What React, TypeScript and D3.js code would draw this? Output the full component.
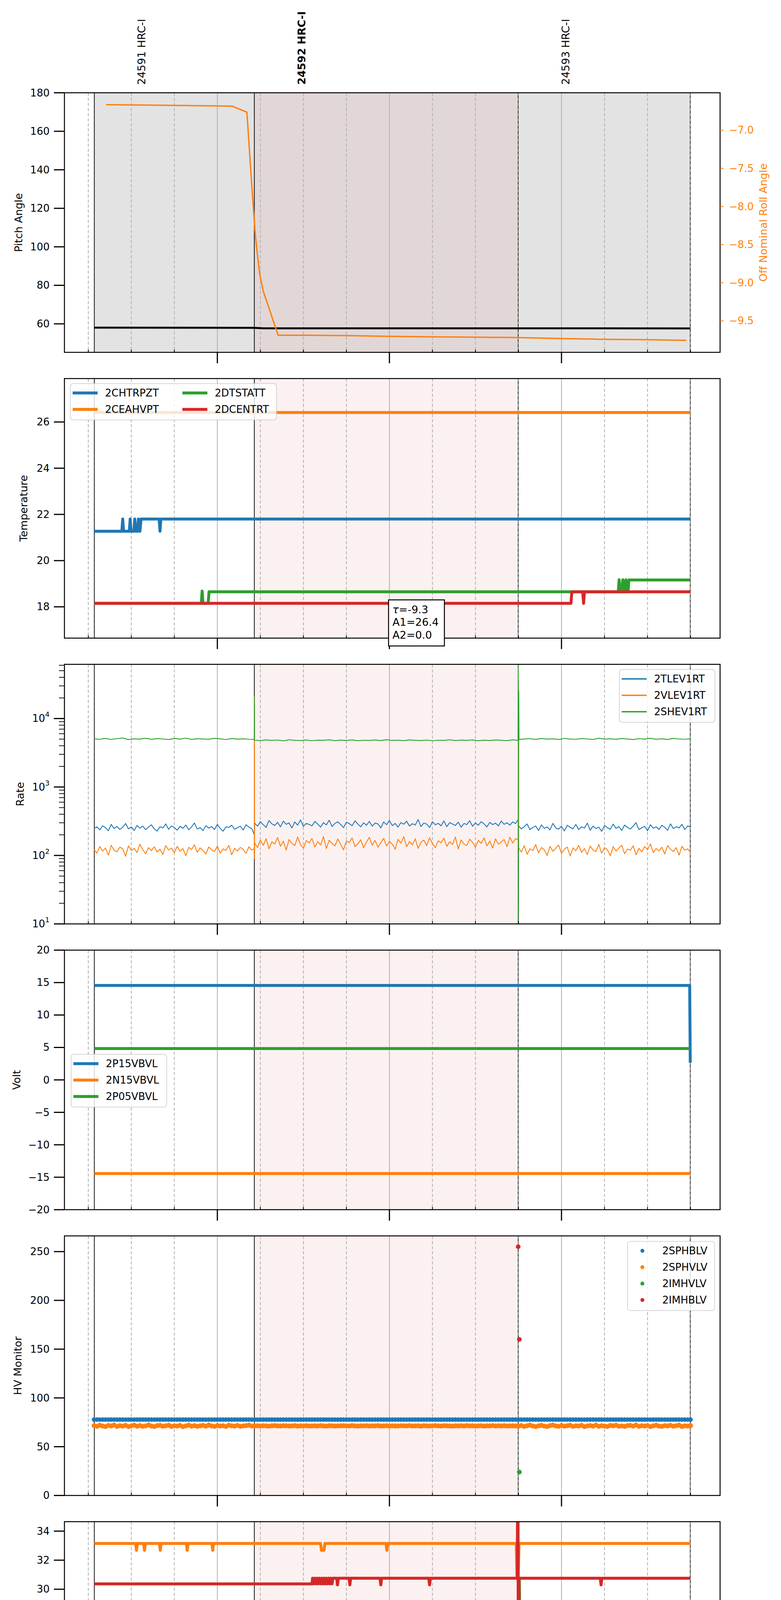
import { FC, ReactNode } from 'react';
import * as d3 from 'd3';

type Pt = [number, number];
type Item = { name: string; color: string };

// time is kept as minutes after 2021-07-01 19:00 UTC
const BASE = Date.UTC(2021, 6, 1, 19, 0, 0);
const at = (m: number) => new Date(BASE + m * 60000);

const X_MIN = 6.68;
const X_MAX = 235.3;

const OBSIDS = ['24591', '24592', '24593'];
const OBS_INSTR = 'HRC-I';
const OBS_START = [17.1, 72.9, 164.9];
const OBS_STOP = [72.9, 164.9, 224.9];
const OBS_FOCUS = '24592';

const BLUE = '#1f77b4';
const ORANGE = '#ff7f0e';
const GREEN = '#2ca02c';
const RED = '#d62728';

// ---- pitch / roll
const PITCH: Pt[] = [[17.1, 58.05], [72.9, 57.95], [76.0, 57.7], [224.9, 57.65]];
const ROLL: Pt[] = [
  [21.2, -6.665], [35, -6.67], [50, -6.677], [65.1, -6.684], [70.3, -6.763], [72.1, -7.78],
  [73.3, -8.4], [74.7, -8.87], [76.0, -9.11], [81.2, -9.689], [92, -9.689], [105.9, -9.694],
  [119.8, -9.703], [133.6, -9.71], [147.5, -9.713], [164.9, -9.719], [178.7, -9.731],
  [192.6, -9.741], [208.2, -9.747], [223.5, -9.756],
];

// ---- temperature
const CHTRPZT: Pt[] = [
  [17.1, 21.27], [26.7, 21.27], [27.0, 21.8], [27.3, 21.27], [29.3, 21.27], [29.6, 21.8], [29.9, 21.27],
  [30.9, 21.27], [31.2, 21.8], [31.6, 21.27], [32.2, 21.27], [32.5, 21.8], [33.0, 21.27], [33.4, 21.8],
  [39.7, 21.8], [40.0, 21.27], [40.3, 21.8], [224.9, 21.8],
];
const CEAHVPT: Pt[] = [[17.1, 26.41], [224.9, 26.41]];
const DTSTATT: Pt[] = [
  [17.1, 18.15], [54.4, 18.15], [54.7, 18.68], [55.0, 18.15], [56.8, 18.15], [57.1, 18.65],
  [199.8, 18.65], [200.1, 19.17], [200.5, 18.65], [201.0, 18.65], [201.4, 19.17], [202.0, 18.65],
  [202.5, 19.17], [203.2, 18.65], [203.5, 19.16], [224.9, 19.16],
];
const DCENTRT: Pt[] = [
  [17.1, 18.15], [183.3, 18.15], [183.6, 18.65], [187.4, 18.65], [187.7, 18.15], [188.0, 18.65], [224.9, 18.65],
];
const FIT_LINES = ['=-9.3', 'A1=26.4', 'A2=0.0'];
const ANNOT_T = 119.7;
const ANNOT_V = 18.3;

// ---- rates: TLEV/VLEV every minute from 19:17, SHEV every 2 minutes
const RATE_T1 = d3.range(17, 226, 1);
const RATE_T2 = d3.range(17, 226, 2);
const TLEV1RT = [
  248, 262, 236, 271, 255, 229, 284, 247, 266, 240, 258, 293, 244, 261, 232, 275, 250, 268, 238, 259,
  281, 245, 227, 263, 252, 289, 241, 270, 256, 234, 266, 249, 278, 237, 260, 298, 243, 255, 230, 272,
  251, 264, 239, 285, 248, 226, 262, 257, 276, 242, 253, 268, 235, 281, 259, 246,
  296, 268, 312, 281, 257, 323, 290, 274, 305, 262, 318, 285, 299, 252, 309, 277, 331, 266, 293, 284,
  270, 315, 288, 259, 302, 279, 327, 264, 295, 310, 283, 255, 306, 292, 271, 320, 287, 262, 300, 276,
  314, 268, 297, 289, 253, 309, 281, 325, 272, 294, 260, 303, 286, 316, 269, 291, 278, 334, 264, 298,
  287, 256, 311, 280, 295, 271, 319, 263, 302, 288, 274, 307, 259, 293, 283, 321, 267, 299, 276, 312,
  290, 261, 305, 282, 296, 270, 318, 285, 300, 277, 309, 291,
  272, 244, 263, 289, 238, 256, 270, 231, 280, 249, 261, 236, 294, 253, 242, 267, 228, 276, 258, 245,
  284, 239, 262, 251, 297, 234, 268, 247, 259, 225, 273, 255, 241, 287, 249, 264, 232, 278, 257, 243,
  269, 301, 238, 254, 266, 229, 281, 250, 262, 240, 275, 258, 233, 290, 247, 263, 252, 285, 239, 270,
  260,
];
const VLEV1RT = [
  122, 108, 135, 116, 128, 101, 141, 119, 113, 132, 125, 97, 138, 118, 127, 110, 146, 121, 106, 130,
  117, 134, 112, 124, 103, 139, 120, 128, 109, 136, 115, 126, 99, 131, 122, 143, 111, 129, 118, 105,
  133, 121, 114, 137, 108, 125, 119, 140, 102, 127, 116, 131, 123, 107, 134, 120,
  152, 131, 168, 140, 176, 125, 158, 147, 183, 136, 162, 120, 171, 149, 139, 186, 144, 128, 165, 153,
  177, 133, 159, 142, 189, 126, 167, 150, 138, 174, 145, 121, 163, 155, 180, 135, 148, 170, 129, 157,
  184, 141, 166, 132, 154, 178, 137, 161, 146, 123, 172, 151, 188, 134, 160, 143, 175, 127, 156, 168,
  139, 182, 149, 130, 164, 153, 179, 136, 158, 145, 186, 124, 169, 147, 140, 173, 155, 132, 166, 150,
  181, 138, 162, 128, 175, 146, 157, 171, 134, 185, 152, 176,
  128, 112, 139, 104, 125, 118, 144, 109, 131, 121, 100, 136, 115, 127, 142, 107, 123, 133, 98, 129,
  117, 140, 111, 126, 103, 137, 120, 114, 145, 108, 130, 122, 99, 134, 116, 128, 141, 106, 124, 119,
  138, 102, 127, 113, 135, 121, 147, 110, 126, 117, 132, 105, 139, 123, 114, 130, 101, 136, 119, 125,
  111,
];
const SHEV1RT = [
  5050, 4980, 5120, 4950, 5080, 5200, 4920, 5060, 5010, 5150, 4970, 5090, 5030, 4940, 5110, 5000,
  5180, 4960, 5070, 5020, 4990, 5140, 5050, 4930, 5100, 5010, 5060, 4980,
  4820, 4760, 4880, 4790, 4850, 4720, 4900, 4800, 4770, 4860, 4740, 4830, 4810, 4890, 4750, 4840,
  4780, 4870, 4730, 4820, 4800, 4860, 4760, 4910, 4790, 4830, 4750, 4880, 4810, 4770, 4850, 4740,
  4820, 4790, 4900, 4760, 4840, 4800, 4870, 4730, 4830, 4780, 4860, 4810, 4750, 4890, 4820,
  5020, 5080, 4960, 5110, 5000, 5050, 4940, 5130, 5010, 4980, 5090, 5030, 4950, 5160, 5000, 5060,
  4970, 5100, 5020, 4940, 5080, 5010, 5140, 4990, 5050, 4960, 5120, 5030, 4980, 5070,
];
// transients at the obsid boundaries
const TLEV_EVENTS: Pt[] = [[72.9, 200], [164.95, 340]];
const VLEV_EVENTS: Pt[] = [[72.85, 125], [72.9, 21000], [72.95, 90], [164.85, 170], [164.95, 36000], [165.05, 130]];
const SHEV_EVENTS: Pt[] = [
  [72.85, 4950], [72.9, 21000], [72.95, 4800], [164.85, 4800], [164.9, 62000], [165.0, 8], [165.1, 25000], [165.2, 4950],
];

// ---- volts
const P15VBVL: Pt[] = [[17.1, 14.55], [224.7, 14.55], [224.9, 2.65]];
const N15VBVL: Pt[] = [[17.1, -14.43], [224.9, -14.43]];
const P05VBVL: Pt[] = [[17.1, 4.84], [224.9, 4.84]];

// ---- HV monitor, one reading a minute
const HV_T = d3.range(17, 226, 1);
const SPHBLV_LEVEL = 77.8; // flat reading for the whole span
const SPHVLV = [
  71.6, 70.9, 72.0, 71.2, 70.7, 71.8, 71.3, 72.2, 70.8, 71.5, 71.1, 71.9, 70.6, 71.4, 72.1, 71.0,
  71.7, 70.9, 71.3, 72.3, 71.2, 70.7, 71.6, 71.9, 71.0, 71.4, 72.0, 70.8, 71.5, 71.2, 71.8, 70.6,
  71.3, 72.1, 71.1, 71.6, 70.9, 71.4, 71.9, 71.0, 72.2, 71.3, 70.8, 71.7, 71.2, 71.5, 70.7, 72.0,
  71.4, 71.1, 71.8, 70.9, 71.3, 71.6, 72.1, 71.2,
  71.3, 71.4, 71.2, 71.5, 71.3, 71.1, 71.4, 71.6, 71.3, 71.2, 71.5, 71.4, 71.2, 71.3, 71.6, 71.1,
  71.4, 71.3, 71.5, 71.2, 71.3, 71.4, 71.2, 71.6, 71.3, 71.1, 71.5, 71.4, 71.2, 71.3, 71.4, 71.5,
  71.3, 71.2, 71.6, 71.3, 71.1, 71.4, 71.3, 71.5, 71.2, 71.4, 71.3, 71.6, 71.2, 71.3, 71.5, 71.1,
  71.4, 71.3, 71.2, 71.5, 71.4, 71.3, 71.6, 71.2, 71.3, 71.4, 71.1, 71.5, 71.3, 71.2, 71.4, 71.6,
  71.3, 71.2, 71.5, 71.4, 71.3, 71.1, 71.4, 71.3, 71.5, 71.2, 71.6, 71.3, 71.4, 71.2, 71.3, 71.5,
  71.1, 71.4, 71.3, 71.6, 71.2, 71.4, 71.3, 71.5, 71.2, 71.3, 71.4, 71.3,
  71.0, 71.7, 70.8, 71.5, 72.1, 71.2, 70.6, 71.4, 71.9, 71.1, 70.7, 71.6, 72.2, 71.3, 70.9, 71.8,
  71.0, 71.5, 72.0, 70.8, 71.4, 71.2, 71.9, 70.6, 71.3, 71.7, 71.1, 72.1, 70.9, 71.5, 71.2, 70.7,
  71.8, 71.4, 72.0, 71.0, 71.3, 70.8, 71.6, 71.9, 71.1, 72.2, 70.9, 71.5, 71.2, 71.7, 70.6, 71.4,
  72.0, 71.1, 70.8, 71.6, 71.3, 71.9, 71.0, 71.5, 72.1, 70.7, 71.4, 71.2, 71.6,
];
const IMHVLV: Pt[] = [[165.3, 24]];
const IMHBLV: Pt[] = [[164.9, 255], [165.3, 160]];

// ---- detector temps
const SPINATM: Pt[] = [[17.1, 18.28], [164.9, 18.28], [165.2, 18.85], [165.6, 18.28], [224.9, 18.28]];
const SPHVATM: Pt[] = [
  [17.1, 33.15], [31.5, 33.15], [31.8, 32.68], [32.1, 33.15], [34.3, 33.15], [34.6, 32.68], [34.9, 33.15],
  [39.8, 33.15], [40.1, 32.68], [40.4, 33.15], [49.2, 33.15], [49.5, 32.68], [49.8, 33.15], [58.1, 33.15],
  [58.4, 32.68], [58.7, 33.15], [96.0, 33.15], [96.3, 32.68], [97.2, 32.68], [97.5, 33.15], [118.8, 33.15],
  [119.1, 32.68], [119.4, 33.15], [164.2, 33.15], [164.5, 30.75], [164.9, 30.75], [165.2, 33.15], [224.9, 33.15],
];
const IMINATM: Pt[] = [
  [17.1, 18.28], [25.9, 18.28], [26.4, 18.94], [26.9, 18.28], [27.8, 18.28], [28.2, 18.94], [28.6, 18.28],
  [29.5, 18.28], [29.9, 18.94], [30.3, 18.28], [31.8, 18.28], [32.2, 18.94], [165.0, 18.94], [165.3, 30.75],
  [165.8, 18.94], [224.9, 18.94],
];
const IMHVATM: Pt[] = [
  [17.1, 30.37], [93.0, 30.37], [93.2, 30.76], [93.6, 30.37], [94.0, 30.76], [94.4, 30.37], [94.8, 30.76],
  [95.2, 30.37], [95.6, 30.76], [96.0, 30.37], [96.4, 30.76], [96.8, 30.37], [97.2, 30.76], [97.6, 30.37],
  [98.0, 30.76], [98.4, 30.37], [98.8, 30.76], [99.2, 30.37], [99.6, 30.76], [100.0, 30.37], [100.3, 30.76],
  [101.6, 30.76], [101.9, 30.3], [102.2, 30.76], [105.9, 30.76], [106.2, 30.3], [106.5, 30.76],
  [116.7, 30.76], [117.0, 30.3], [117.3, 30.76], [133.7, 30.76], [134.0, 30.3], [134.3, 30.76],
  [164.6, 30.76], [164.8, 45], [165.0, 10], [165.2, 30.76], [193.5, 30.76], [193.8, 30.3], [194.1, 30.76],
  [224.9, 30.76],
];

// ---- FEA temps
const FHTRMZT: Pt[] = [
  [17.1, 20.73], [95.3, 20.73], [95.6, 21.27], [194.4, 21.27], [194.7, 21.82], [195.8, 21.82],
  [196.1, 21.27], [196.4, 21.82], [224.9, 21.82],
];
const FRADPYT: Pt[] = [
  [17.1, 16.2], [65.3, 16.2], [65.6, 16.68], [172.2, 16.68], [172.5, 17.17], [198.2, 17.17],
  [198.5, 17.66], [224.9, 17.66],
];
const FEPRATM: Pt[] = [
  [17.1, 22.42], [85.5, 22.42], [85.8, 23.14], [164.3, 23.14], [164.5, 21.4], [164.7, 23.14],
  [219.7, 23.14], [220.0, 23.88], [224.9, 23.88],
];
const FE00ATM: Pt[] = [
  [17.1, 20.79], [32.7, 20.79], [33.0, 21.1], [33.3, 20.79], [34.4, 20.79], [34.7, 21.1], [36.4, 21.1],
  [36.9, 20.79], [37.3, 20.79], [37.7, 21.1], [74.5, 21.1], [74.8, 21.44], [75.1, 21.1], [89.4, 21.1],
  [89.7, 21.41], [90.1, 21.1], [90.5, 21.41], [90.9, 21.1], [91.3, 21.41], [91.7, 21.1], [92.1, 21.41],
  [92.5, 21.1], [92.9, 21.41], [93.2, 21.1], [93.4, 22.03], [93.6, 21.41], [108.4, 21.41], [108.7, 22.03],
  [109.0, 21.41], [130.9, 21.41], [131.2, 20.79], [131.5, 21.41], [133.3, 21.41], [133.6, 21.05],
  [133.9, 21.41], [152.6, 21.41], [152.9, 20.75], [153.2, 21.41], [155.0, 21.41], [155.3, 22.03],
  [155.6, 21.41], [157.3, 21.41], [157.6, 21.75], [157.9, 21.41], [160.1, 21.41], [160.4, 21.75],
  [160.7, 21.41], [164.7, 21.41], [164.9, 30], [165.1, 12], [165.3, 21.41], [170.6, 21.41],
  [170.9, 21.69], [217.7, 21.69], [218.0, 22.03], [221.1, 22.03], [221.4, 21.69], [221.7, 22.03],
  [224.9, 22.03],
];

const PLOT_L = 165;
const PLOT_R = 1844;
const TOP0 = 237.5;
const STEP = 731.6;
const PH = 664.5;
const FONT = 'DejaVu Sans';

const withEvents = (t: number[], v: number[], ev: Pt[]): Pt[] =>
  ([...d3.zip(t, v), ...ev] as Pt[]).sort((a, b) => a[0] - b[0]);

const Legend: FC<{ items: Item[]; x: number; y: number; w: number; cols?: number; dot?: boolean; lw: number }> = ({
  items, x, y, w, cols = 1, dot, lw,
}) => {
  const rows = Math.ceil(items.length / cols);
  const h = 51 + 42 * (rows - 1);
  return (
    <g>
      <rect x={x} y={y} width={w} height={h} rx={7} fill="white" fillOpacity={0.8} stroke="#cccccc" strokeOpacity={0.8} strokeWidth={2} />
      {items.map((it, k) => {
        const cx = x + Math.floor(k / rows) * 281;
        const cy = y + 24 + (k % rows) * 42;
        return (
          <g key={it.name}>
            {dot ? (
              <circle cx={cx + 38} cy={cy} r={5} fill={it.color} />
            ) : (
              <line x1={cx + 6} x2={cx + 70} y1={cy} y2={cy} stroke={it.color} strokeWidth={lw} />
            )}
            <text x={cx + 89} y={cy} dominantBaseline="central" fontSize={26}>{it.name}</text>
          </g>
        );
      })}
    </g>
  );
};

const App: FC = () => {
  const x = d3.scaleUtc().domain([at(X_MIN), at(X_MAX)]).range([PLOT_L, PLOT_R]);
  const xm = (m: number) => x(at(m));
  const quarters = d3.utcMinute.every(15)!.range(at(X_MIN), at(X_MAX));
  const focus = OBSIDS.indexOf(OBS_FOCUS);

  const path = (data: Pt[], y: (v: number) => number) =>
    d3.line<Pt>().x((d) => xm(d[0])).y((d) => y(d[1]))(data) ?? '';

  const yLin = (lo: number, hi: number) => d3.scaleLinear().domain([lo, hi]).range([PH, 0]);

  const curve = (data: Pt[], y: (v: number) => number, color: string, w = 7.5) => (
    <path d={path(data, y)} fill="none" stroke={color} strokeWidth={w} strokeLinejoin="round" />
  );

  const yAxis = (ticks: number[], y: (v: number) => number, fmt: (v: number) => ReactNode) =>
    ticks.map((t) => (
      <g key={t}>
        <line x1={PLOT_L - 27} x2={PLOT_L} y1={y(t)} y2={y(t)} stroke="black" strokeWidth={3} />
        <text x={PLOT_L - 38} y={y(t)} textAnchor="end" dominantBaseline="central" fontSize={26}>{fmt(t)}</text>
      </g>
    ));

  const panel = (i: number, label: string, labelX: number, axis: ReactNode, marks: ReactNode, over?: ReactNode) => {
    const top = TOP0 + i * STEP;
    return (
      <g key={i} transform={`translate(0,${top})`}>
        <clipPath id={`clip${i}`}>
          <rect x={PLOT_L} y={0} width={PLOT_R - PLOT_L} height={PH} />
        </clipPath>
        {i === 0 &&
          OBS_START.map((s, k) => (
            <rect key={k} x={xm(s)} width={xm(OBS_STOP[k]) - xm(s)} y={0} height={PH} fill="#e3e3e3" />
          ))}
        <rect x={xm(OBS_START[focus])} width={xm(OBS_STOP[focus]) - xm(OBS_START[focus])} y={0} height={PH} fill="#e67878" fillOpacity={0.1} />
        {[...OBS_START, OBS_STOP[OBS_STOP.length - 1]].map((s, k) => (
          <line key={k} x1={xm(s)} x2={xm(s)} y1={0} y2={PH} stroke="black" strokeWidth={1.8} />
        ))}
        {quarters.map((d) => (
          <line
            key={+d}
            x1={x(d)}
            x2={x(d)}
            y1={0}
            y2={PH}
            stroke="#b0b0b0"
            strokeWidth={2}
            strokeDasharray={d.getUTCMinutes() ? '8,5' : undefined}
          />
        ))}
        <g clipPath={`url(#clip${i})`}>{marks}</g>
        <rect x={PLOT_L} y={0} width={PLOT_R - PLOT_L} height={PH} fill="none" stroke="black" strokeWidth={2.5} />
        {quarters.map((d) =>
          d.getUTCMinutes() ? (
            <line key={+d} x1={x(d)} x2={x(d)} y1={PH - 7} y2={PH} stroke="black" strokeWidth={2} />
          ) : (
            <line key={+d} x1={x(d)} x2={x(d)} y1={PH} y2={PH + 28} stroke="black" strokeWidth={3} />
          ),
        )}
        {axis}
        <text transform={`translate(${labelX},${PH / 2}) rotate(-90)`} textAnchor="middle" dominantBaseline="central" fontSize={27}>
          {label}
        </text>
        {over}
      </g>
    );
  };

  // panel 1
  const yPitch = yLin(45.2, 180);
  const yRoll = yLin(-9.913, -6.509);
  const fmt1 = d3.format('.1f');
  const p1 = panel(
    0,
    'Pitch Angle',
    47,
    <g>
      {yAxis([60, 80, 100, 120, 140, 160, 180], yPitch, (v) => v)}
      {[-9.5, -9, -8.5, -8, -7.5, -7].map((t) => (
        <g key={t}>
          <line x1={PLOT_R} x2={PLOT_R + 9} y1={yRoll(t)} y2={yRoll(t)} stroke={ORANGE} strokeWidth={2} />
          <text x={PLOT_R + 23} y={yRoll(t)} dominantBaseline="central" fontSize={26} fill={ORANGE}>{fmt1(t)}</text>
        </g>
      ))}
      <text transform={`translate(1954,${PH / 2}) rotate(-90)`} textAnchor="middle" dominantBaseline="central" fontSize={27} fill={ORANGE}>
        Off Nominal Roll Angle
      </text>
    </g>,
    <g>
      {curve(PITCH, yPitch, 'black', 5)}
      {curve(ROLL, yRoll, ORANGE, 3.5)}
    </g>,
  );

  // panel 2
  const yTemp = yLin(16.645, 27.88);
  const p2 = panel(
    1,
    'Temperature',
    60,
    yAxis([18, 20, 22, 24, 26], yTemp, (v) => v),
    <g>
      {curve(CHTRPZT, yTemp, BLUE)}
      {curve(CEAHVPT, yTemp, ORANGE)}
      {curve(DTSTATT, yTemp, GREEN)}
      {curve(DCENTRT, yTemp, RED)}
    </g>,
    <g>
      <Legend
        x={180}
        y={12.9}
        w={528}
        cols={2}
        lw={7.5}
        items={[
          { name: '2CHTRPZT', color: BLUE },
          { name: '2CEAHVPT', color: ORANGE },
          { name: '2DTSTATT', color: GREEN },
          { name: '2DCENTRT', color: RED },
        ]}
      />
      <g transform={`translate(${xm(ANNOT_T)},${yTemp(ANNOT_V)})`}>
        <rect width={143} height={118} fill="white" stroke="black" strokeWidth={2.5} />
        {FIT_LINES.map((s, k) => (
          <text key={k} x={10} y={34 + k * 32.5} fontSize={27}>
            {k === 0 && <tspan fontStyle="italic">τ</tspan>}
            {s}
          </text>
        ))}
      </g>
    </g>,
  );

  // panel 3
  const yRate = d3.scaleLog().domain([10, 61900]).range([PH, 0]);
  const rateMinor: number[] = [];
  [10, 100, 1000, 10000].forEach((d) => d3.range(2, 10).forEach((m) => m * d <= 61900 && rateMinor.push(m * d)));
  const p3 = panel(
    2,
    'Rate',
    51,
    <g>
      {rateMinor.map((t) => (
        <line key={t} x1={PLOT_L - 14} x2={PLOT_L} y1={yRate(t)} y2={yRate(t)} stroke="black" strokeWidth={1.8} />
      ))}
      {yAxis([10, 100, 1000, 10000], yRate, (v) => (
        <>
          10
          <tspan dy={-11} fontSize={18}>{Math.round(Math.log10(v))}</tspan>
        </>
      ))}
    </g>,
    <g>
      {curve(withEvents(RATE_T1, TLEV1RT, TLEV_EVENTS), yRate, BLUE, 2.2)}
      {curve(withEvents(RATE_T1, VLEV1RT, VLEV_EVENTS), yRate, ORANGE, 2.2)}
      {curve(withEvents(RATE_T2, SHEV1RT, SHEV_EVENTS), yRate, GREEN, 2.2)}
    </g>,
    <Legend
      x={1586}
      y={13.3}
      w={245}
      lw={3.7}
      items={[
        { name: '2TLEV1RT', color: BLUE },
        { name: '2VLEV1RT', color: ORANGE },
        { name: '2SHEV1RT', color: GREEN },
      ]}
    />,
  );

  // panel 4
  const yVolt = yLin(-20, 20);
  const fmtV = d3.format('d');
  const p4 = panel(
    3,
    'Volt',
    42,
    yAxis(d3.range(-20, 21, 5), yVolt, (v) => fmtV(v)),
    <g>
      {curve(P15VBVL, yVolt, BLUE)}
      {curve(N15VBVL, yVolt, ORANGE)}
      {curve(P05VBVL, yVolt, GREEN)}
    </g>,
    <Legend
      x={182}
      y={266.7}
      w={245}
      lw={7.5}
      items={[
        { name: '2P15VBVL', color: BLUE },
        { name: '2N15VBVL', color: ORANGE },
        { name: '2P05VBVL', color: GREEN },
      ]}
    />,
  );

  // panel 5
  const yHV = yLin(0, 266.1);
  const p5 = panel(
    4,
    'HV Monitor',
    45,
    yAxis(d3.range(0, 251, 50), yHV, (v) => v),
    <g>
      {HV_T.map((t) => (
        <circle key={`b${t}`} cx={xm(t)} cy={yHV(SPHBLV_LEVEL)} r={5.8} fill={BLUE} />
      ))}
      {(d3.zip(HV_T, SPHVLV) as Pt[]).map(([t, v]) => (
        <circle key={`o${t}`} cx={xm(t)} cy={yHV(v)} r={6.3} fill={ORANGE} />
      ))}
      {IMHVLV.map(([t, v]) => (
        <circle key={`g${t}`} cx={xm(t)} cy={yHV(v)} r={6} fill={GREEN} />
      ))}
      {IMHBLV.map(([t, v]) => (
        <circle key={`r${t}`} cx={xm(t)} cy={yHV(v)} r={6} fill={RED} />
      ))}
    </g>,
    <Legend
      x={1607}
      y={14.1}
      w={223}
      dot
      lw={0}
      items={[
        { name: '2SPHBLV', color: BLUE },
        { name: '2SPHVLV', color: ORANGE },
        { name: '2IMHVLV', color: GREEN },
        { name: '2IMHBLV', color: RED },
      ]}
    />,
  );

  // panel 6
  const yDet = yLin(16.78, 34.65);
  const p6 = panel(
    5,
    'Detector Temp',
    61,
    yAxis(d3.range(18, 35, 2), yDet, (v) => v),
    <g>
      {curve(SPINATM, yDet, BLUE)}
      {curve(SPHVATM, yDet, ORANGE)}
      {curve(IMINATM, yDet, GREEN)}
      {curve(IMHVATM, yDet, RED)}
    </g>,
    <Legend
      x={1583}
      y={245.5}
      w={247}
      lw={7.5}
      items={[
        { name: '2SPINATM', color: BLUE },
        { name: '2SPHVATM', color: ORANGE },
        { name: '2IMINATM', color: GREEN },
        { name: '2IMHVATM', color: RED },
      ]}
    />,
  );

  // panel 7 with the time axis labels
  const yFea = yLin(15.16, 24.63);
  const p7 = panel(
    6,
    'FEA Temp',
    61,
    <g>
      {yAxis(d3.range(16, 25, 2), yFea, (v) => v)}
      {quarters.map((d) =>
        d.getUTCMinutes() ? (
          <text key={+d} x={x(d)} y={PH + 21} textAnchor="middle" fontSize={17}>{d.getUTCMinutes()}</text>
        ) : (
          <text key={+d} x={x(d)} y={PH + 59} textAnchor="middle" fontSize={27}>{`${d.getUTCHours()}h`}</text>
        ),
      )}
      <text x={(PLOT_L + PLOT_R) / 2} y={PH + 99} textAnchor="middle" fontSize={33}>2021-07-01 (182)</text>
    </g>,
    <g>
      {curve(FHTRMZT, yFea, BLUE)}
      {curve(FRADPYT, yFea, ORANGE)}
      {curve(FEPRATM, yFea, GREEN)}
      {curve(FE00ATM, yFea, RED)}
    </g>,
    <Legend
      x={1580}
      y={244.9}
      w={250}
      lw={7.5}
      items={[
        { name: '2FHTRMZT', color: BLUE },
        { name: '2FRADPYT', color: ORANGE },
        { name: '2FEPRATM', color: GREEN },
        { name: '2FE00ATM', color: RED },
      ]}
    />,
  );

  return (
    <svg
      width={2000}
      height={5400}
      style={{ display: 'block', margin: '-8px 0 0 -8px', background: 'white' }}
      fontFamily={FONT}
    >
      <rect width={2000} height={5400} fill="white" />
      {OBSIDS.map((id, k) => (
        <text
          key={id}
          transform={`translate(${xm(OBS_START[k] + 16.5)},217) rotate(-90)`}
          dominantBaseline="central"
          fontSize={27}
          fontWeight={id === OBS_FOCUS ? 'bold' : 'normal'}
        >
          {`${id} ${OBS_INSTR}`}
        </text>
      ))}
      {p1}
      {p2}
      {p3}
      {p4}
      {p5}
      {p6}
      {p7}
    </svg>
  );
};

export default App;
